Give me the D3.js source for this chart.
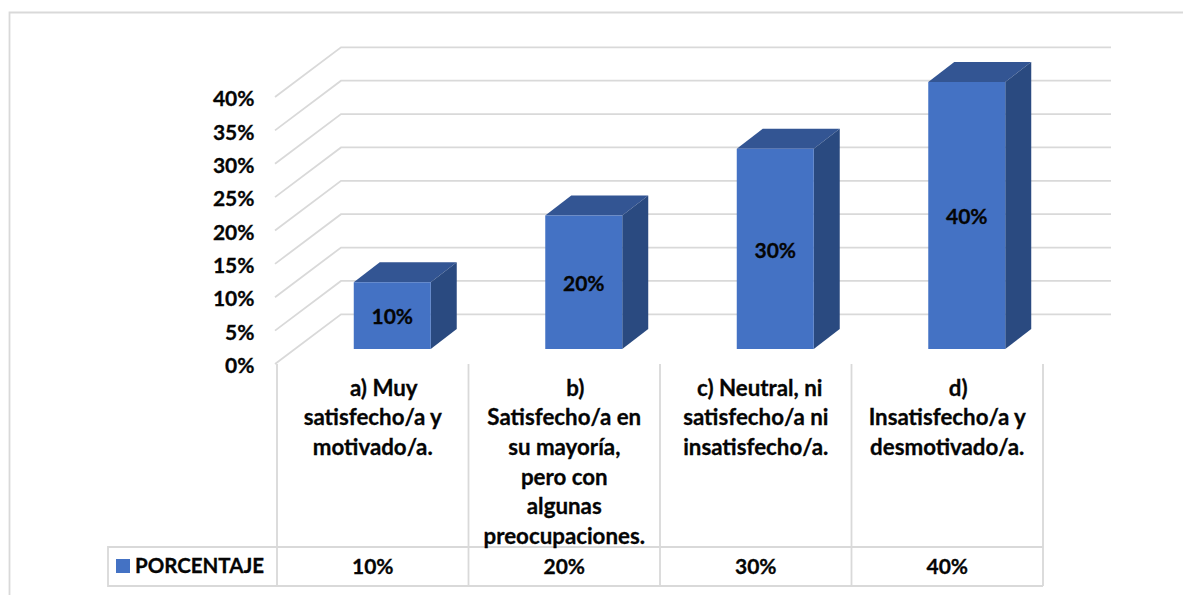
<!DOCTYPE html>
<html>
<head>
<meta charset="utf-8">
<script src="https://d3js.org/d3.v7.min.js"></script>
<style>
  html, body { margin: 0; padding: 0; background: white; }
  svg { display: block; }
  text { font-family: Lato, "Open Sans", sans-serif; font-weight: 700; fill: #050505; stroke: #050505; stroke-width: 0.3px; font-size: 21px; }
</style>
</head>
<body>
<div id="chart"></div>
<script>
// data
var categories = ['a', 'b', 'c', 'd']
var categoryLines = [
  ['a) Muy', 'satisfecho/a y', 'motivado/a.'],
  ['b)', 'Satisfecho/a en', 'su mayoría,', 'pero con', 'algunas', 'preocupaciones.'],
  ['c) Neutral, ni', 'satisfecho/a ni', 'insatisfecho/a.'],
  ['d)', 'Insatisfecho/a y', 'desmotivado/a.']
]
var values = [0.10, 0.20, 0.30, 0.40]
var yTicks = [0, 0.05, 0.10, 0.15, 0.20, 0.25, 0.30, 0.35, 0.40]
var seriesName = 'PORCENTAJE'

var width = 1183, height = 595
var gridColor = '#d9d9d9'
var front = '#4472c4', top3d = '#335593', side = '#2a4a80'

var svg = d3.select('#chart').append('svg')
  .attr('width', width)
  .attr('height', height)

var pct = d3.format('.0%')

// layout
var tableLeft = 108, tableTop = 547, tableBottom = 586
var plotLeft = 277, plotRight = 1043
var floorFront = 364, floorBack = 314.3
var wallDx = 65, wallDy = floorFront - floorBack, wallRight = 1111
var barFloor = 349, barDx = 26, barDy = 20, barShift = 19.5

var x = d3.scaleBand().domain(categories).range([plotLeft, plotRight]).paddingInner(0.598).paddingOuter(0.299)
var xCell = d3.scaleBand().domain(categories).range([plotLeft, plotRight])
var h = d3.scaleLinear().domain([0, 0.4]).range([0, 267])

// outer chart border
svg.append('path')
  .attr('d', 'M9.5,' + height + 'V12.5H' + width)
  .style('fill', 'none')
  .style('stroke', gridColor)
  .style('stroke-width', 1.8)

// 3d walls: slanted side wall + horizontal back wall
svg.append('g').selectAll('path')
  .data(yTicks)
  .enter().append('path')
  .attr('d', d => {
    var y0 = floorFront - h(d)
    return 'M' + (plotLeft - 2) + ',' + y0 + 'L' + (plotLeft - 2 + wallDx + 1) + ',' + (y0 - wallDy) + 'H' + wallRight
  })
  .style('fill', 'none')
  .style('stroke', gridColor)
  .style('stroke-width', 1.8)

// y axis labels
var yAxis = d3.axisLeft(d3.scaleLinear().domain([0, 0.4]).range([floorFront, floorFront - h(0.4)]))
  .tickValues(yTicks)
  .tickFormat(pct)
  .tickSize(0)
  .tickPadding(0)

var gY = svg.append('g')
  .attr('transform', 'translate(254.5,2)')
  .call(yAxis)
gY.attr('font-size', null).attr('font-family', null)
gY.select('.domain').remove()

// bars
var gBars = svg.append('g')
var barRow = gBars.selectAll('g')
  .data(categories)
  .enter().append('g')
  .attr('transform', d => 'translate(' + (x(d) + barShift) + ',0)')

var bw = x.bandwidth()

barRow.append('path')
  .attr('d', (d, i) => {
    var t = barFloor - h(values[i])
    return 'M0,' + t + 'L' + barDx + ',' + (t - barDy) + 'H' + (bw + barDx) + 'L' + bw + ',' + t + 'Z'
  })
  .style('fill', top3d)

barRow.append('path')
  .attr('d', (d, i) => {
    var t = barFloor - h(values[i])
    return 'M' + bw + ',' + t + 'L' + (bw + barDx) + ',' + (t - barDy) + 'V' + (barFloor - barDy) + 'L' + bw + ',' + barFloor + 'Z'
  })
  .style('fill', side)

barRow.append('rect')
  .attr('y', (d, i) => barFloor - h(values[i]))
  .attr('width', bw)
  .attr('height', (d, i) => h(values[i]))
  .style('fill', front)

barRow.append('text')
  .attr('x', bw / 2)
  .attr('y', (d, i) => barFloor - h(values[i]) / 2 + 1.5)
  .attr('dy', '0.35em')
  .style('text-anchor', 'middle')
  .text((d, i) => pct(values[i]))

// data table: vertical separators
svg.append('g').selectAll('line')
  .data(categories.concat('end'))
  .enter().append('line')
  .attr('x1', (d, i) => plotLeft + i * xCell.step())
  .attr('x2', (d, i) => plotLeft + i * xCell.step())
  .attr('y1', floorFront)
  .attr('y2', tableBottom)
  .style('stroke', gridColor)
  .style('stroke-width', 1.8)

svg.append('path')
  .attr('d', 'M' + plotRight + ',' + tableTop + 'H' + tableLeft + 'V' + tableBottom + 'H' + plotRight)
  .style('fill', 'none')
  .style('stroke', gridColor)
  .style('stroke-width', 1.8)

// category labels
var gCat = svg.append('g').selectAll('g')
  .data(categories)
  .enter().append('g')
  .attr('transform', d => 'translate(' + (xCell(d) + xCell.bandwidth() / 2) + ',0)')

gCat.selectAll('text')
  .data((d, i) => categoryLines[i])
  .enter().append('text')
  .attr('x', (d, i) => i === 0 ? (d.length <= 6 ? 11 : 4) : 0) // first lines sit off centre in the original
  .attr('y', (d, i) => 388 + i * 29.6)
  .attr('dy', '0.35em')
  .style('text-anchor', 'middle')
  .style('font-size', '22.3px')
  .text(d => d)

// table values
svg.append('g').selectAll('text')
  .data(categories)
  .enter().append('text')
  .attr('x', d => xCell(d) + xCell.bandwidth() / 2)
  .attr('y', 567)
  .attr('dy', '0.35em')
  .style('text-anchor', 'middle')
  .text((d, i) => pct(values[i]))

// legend key
svg.append('rect')
  .attr('x', 116)
  .attr('y', 559)
  .attr('width', 14)
  .attr('height', 14)
  .style('fill', front)

svg.append('text')
  .attr('x', 135)
  .attr('y', 566)
  .attr('dy', '0.35em')
  .style('font-size', '20.5px')
  .text(seriesName)
</script>
</body>
</html>
